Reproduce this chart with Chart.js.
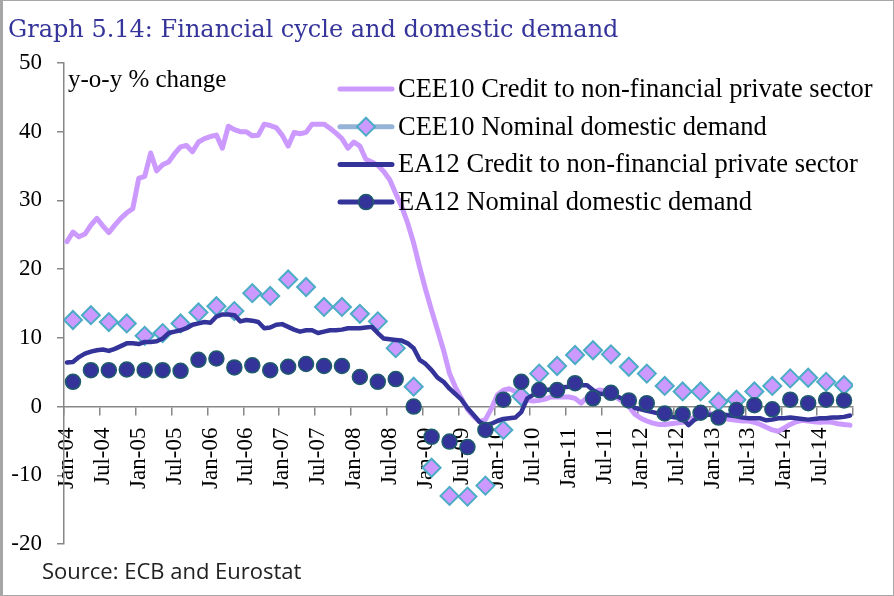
<!DOCTYPE html>
<html>
<head>
<meta charset="utf-8">
<style>
  html, body { margin: 0; padding: 0; background: #fff; }
  #wrap { position: relative; width: 894px; height: 596px; overflow: hidden; }
  #chart { position: absolute; left: 0; top: 0; }
  #frame { position: absolute; left: 0; top: 0; width: 894px; height: 596px; box-sizing: border-box;
           border: 1px solid #a6a6a6; border-left: 3px solid #a6a6a6; pointer-events: none; }
  #title { position: absolute; left: 8px; top: 15px; font: 24px/28px "DejaVu Serif", serif;
           color: #35349a; white-space: nowrap; }
  #source { position: absolute; left: 42px; top: 558px; font: 22px/25px "Open Sans", sans-serif;
            color: #222; white-space: nowrap; }
</style>
</head>
<body>
<div id="wrap">
  <canvas id="chart" width="894" height="596"></canvas>
  <div id="title">Graph 5.14: Financial cycle and domestic demand</div>
  <div id="source">Source: ECB and Eurostat</div>
  <div id="frame"></div>
</div>

<script src="https://cdn.jsdelivr.net/npm/chart.js"></script>
<script>
  // x tick labels, one every six months starting Jan-04
  const tickLabels = ['Jan-04', 'Jul-04', 'Jan-05', 'Jul-05', 'Jan-06', 'Jul-06', 'Jan-07', 'Jul-07',
    'Jan-08', 'Jul-08', 'Jan-09', 'Jul-09', 'Jan-10', 'Jul-10', 'Jan-11', 'Jul-11',
    'Jan-12', 'Jul-12', 'Jan-13', 'Jul-13', 'Jan-14', 'Jul-14'];

  const seriesNames = ['CEE10 Credit to non-financial private sector', 'CEE10 Nominal domestic demand',
    'EA12 Credit to non-financial private sector', 'EA12 Nominal domestic demand'];

  // monthly, Jan-04 .. Dec-14
  const ceeCredit = [
    24.0, 25.4, 24.7, 25.1, 26.4, 27.4, 26.3, 25.3, 26.4, 27.4, 28.2, 28.8,
    33.2, 33.5, 36.9, 34.3, 35.2, 35.6, 36.8, 37.8, 38.0, 37.1, 38.5, 39.0,
    39.3, 39.5, 37.6, 40.8, 40.3, 40.0, 40.0, 39.4, 39.5, 41.1, 40.9, 40.6,
    39.5, 37.9, 39.9, 39.7, 39.9, 41.1, 41.1, 41.1, 40.5, 39.8, 39.0, 37.6,
    38.5, 37.9, 36.0, 35.6, 35.1, 34.2, 33.0, 31.0, 29.1, 26.7, 23.8, 20.3,
    17.0, 14.0, 11.1, 8.2, 4.8, 2.8, 1.2, -0.4, -1.4, -2.2, -1.9, -0.3,
    1.7, 2.4, 2.6, 2.2, 1.7, 1.0, 0.8, 0.9, 1.1, 1.4, 1.4, 1.4,
    1.4, 1.2, 0.5, 1.3, 2.0, 2.4, 2.3, 2.0, 1.3, 0.7, 0.0, -1.1,
    -1.7, -2.1, -2.4, -2.6, -2.6, -2.5, -2.4, -2.3, -2.0, -1.5, -1.0, -0.9,
    -1.1, -1.4, -1.7, -1.9, -2.0, -2.1, -2.1, -2.3, -2.6, -3.0, -3.4, -3.6,
    -3.1, -2.6, -2.2, -2.0, -2.1, -2.2, -2.3, -2.2, -2.3, -2.5, -2.6, -2.7];

  const eaCredit = [
    6.4, 6.5, 7.2, 7.7, 8.0, 8.2, 8.3, 8.1, 8.4, 8.8, 9.2, 9.2,
    9.1, 9.4, 9.4, 9.5, 9.9, 10.7, 10.9, 11.1, 11.4, 11.9, 12.1, 12.3,
    12.2, 13.1, 13.4, 13.4, 13.3, 12.4, 12.6, 12.5, 12.3, 11.4, 11.5, 11.9,
    12.0, 11.6, 11.2, 10.9, 11.1, 11.1, 10.7, 10.9, 11.1, 11.1, 11.2, 11.4,
    11.4, 11.4, 11.5, 11.6, 10.7, 9.9, 9.8, 9.7, 9.6, 9.2, 8.5, 6.8,
    6.2, 5.3, 4.2, 3.6, 2.6, 1.8, 1.0, -0.2, -1.2, -2.2, -2.7, -2.5,
    -2.1, -1.8, -1.7, -1.6, -0.8, 1.2, 1.7, 2.2, 2.4, 2.5, 2.6, 2.8,
    2.9, 3.1, 3.1, 3.1, 2.4, 1.9, 1.8, 1.7, 1.5, 1.1, 0.7, -0.2,
    -0.4, -0.6, -0.8, -1.0, -1.3, -1.5, -1.6, -1.8, -2.7, -1.9, -1.5, -1.2,
    -1.2, -1.2, -1.2, -1.3, -1.4, -1.6, -1.7, -1.7, -1.7, -2.0, -1.9, -1.7,
    -1.7, -1.6, -1.7, -1.8, -1.9, -1.8, -1.7, -1.7, -1.6, -1.6, -1.5, -1.3];

  // quarterly, 2004Q1 .. 2014Q4
  const ceeDemand = [
    12.6, 13.3, 12.3, 12.1, 10.3, 10.7, 12.1, 13.7, 14.6, 13.9, 16.5, 16.1,
    18.5, 17.4, 14.5, 14.5, 13.5, 12.4, 8.5, 2.9, -8.9, -13.0, -13.1, -11.5,
    -3.4, 1.5, 4.8, 5.9, 7.5, 8.2, 7.6, 5.8, 4.8, 3.0, 2.2, 2.2,
    0.7, 1.0, 2.2, 3.0, 4.1, 4.2, 3.6, 3.1];

  const eaDemand = [
    3.6, 5.3, 5.3, 5.4, 5.3, 5.3, 5.2, 6.8, 7.0, 5.7, 6.0, 5.3,
    5.8, 6.2, 5.9, 5.9, 4.3, 3.6, 4.0, 0.0, -4.4, -5.1, -5.9, -3.4,
    1.0, 3.6, 2.4, 2.4, 3.4, 1.2, 2.0, 0.9, 0.5, -1.0, -1.1, -0.9,
    -1.6, -0.5, 0.2, -0.4, 1.0, 0.5, 1.0, 0.9];

  // x is measured in months since Jan-04; each observation sits mid-period
  const monthly = arr => arr.map((v, i) => ({ x: i + 0.5, y: v }));
  const quarterly = arr => arr.map((v, q) => ({ x: q * 3 + 1.5, y: v }));

  const serif = 'Liberation Serif';
  const axisGrey = '#878787';

  // legend and unit label drawn inside the plot area
  const insideLegend = {
    id: 'insideLegend',
    afterDraw(chart) {
      const ctx = chart.ctx;
      ctx.save();
      ctx.fillStyle = '#000';
      ctx.font = '25px "' + serif + '"';
      ctx.textBaseline = 'alphabetic';
      ctx.textAlign = 'left';
      ctx.fillText('y-o-y % change', 68, 87);

      ctx.font = '26.5px "' + serif + '"';
      ctx.textBaseline = 'middle';
      chart.data.datasets.forEach((ds, i) => {
        const y = 89 + i * 37.7;
        const x0 = 340, x1 = 392, xm = (x0 + x1) / 2;
        ctx.beginPath();
        ctx.lineCap = 'round';
        ctx.lineWidth = 5;
        ctx.strokeStyle = ds.legendLine;
        ctx.moveTo(x0, y);
        ctx.lineTo(x1, y);
        ctx.stroke();
        if (ds.pointStyle === 'rectRot') {
          const r = 9;
          ctx.beginPath();
          ctx.moveTo(xm - r, y); ctx.lineTo(xm, y - r); ctx.lineTo(xm + r, y); ctx.lineTo(xm, y + r);
          ctx.closePath();
          ctx.fillStyle = ds.backgroundColor; ctx.fill();
          ctx.lineWidth = 2; ctx.strokeStyle = ds.borderColor; ctx.stroke();
        } else if (ds.pointStyle === 'circle' && ds.pointRadius > 0) {
          ctx.beginPath();
          ctx.arc(xm, y, 7.5, 0, Math.PI * 2);
          ctx.fillStyle = ds.backgroundColor; ctx.fill();
          ctx.lineWidth = 1.5; ctx.strokeStyle = ds.borderColor; ctx.stroke();
        }
        ctx.fillStyle = '#000';
        ctx.fillText(ds.label, 398, y + 1);
      });
      ctx.restore();
    }
  };

  new Chart(document.getElementById('chart'), {
    type: 'line',
    data: {
      datasets: [
        {
          label: seriesNames[0],
          data: monthly(ceeCredit),
          borderColor: '#cc99ff',
          legendLine: '#cc99ff',
          borderWidth: 5,
          pointRadius: 0,
          pointStyle: 'line',
          order: 4
        },
        {
          label: seriesNames[1],
          data: quarterly(ceeDemand),
          showLine: false,
          pointStyle: 'rectRot',
          pointRadius: 9,
          pointBorderWidth: 2,
          backgroundColor: '#cc99ff',
          borderColor: '#4bacc6',
          legendLine: '#95b3d7',
          order: 3
        },
        {
          label: seriesNames[2],
          data: monthly(eaCredit),
          borderColor: '#333399',
          legendLine: '#333399',
          borderWidth: 4.5,
          pointRadius: 0,
          pointStyle: 'line',
          order: 2
        },
        {
          label: seriesNames[3],
          data: quarterly(eaDemand),
          showLine: false,
          pointStyle: 'circle',
          pointRadius: 7.5,
          pointBorderWidth: 1.5,
          backgroundColor: '#333399',
          borderColor: '#1f5c6b',
          legendLine: '#333399',
          order: 1
        }
      ]
    },
    options: {
      responsive: false,
      animation: false,
      events: [],
      layout: { padding: { top: 63, right: 41, bottom: 52, left: 0 } },
      elements: { line: { tension: 0, fill: false, borderJoinStyle: 'round', borderCapStyle: 'round' } },
      scales: {
        x: {
          type: 'linear',
          position: { y: 0 },
          min: 0,
          max: 132,
          grid: { drawOnChartArea: false, tickLength: 8, color: axisGrey, lineWidth: 1.5 },
          border: { color: axisGrey, width: 1.5 },
          ticks: {
            stepSize: 6,
            autoSkip: false,
            minRotation: 90,
            maxRotation: 90,
            padding: 13,
            labelOffset: 3,
            color: '#000',
            font: { family: serif, size: 23 },
            callback: (value) => tickLabels[value / 6] || ''
          }
        },
        y: {
          min: -20,
          max: 50,
          afterFit(scale) { scale.width = 64; },
          grid: { drawOnChartArea: false, tickLength: 7, color: axisGrey, lineWidth: 1.5 },
          border: { color: axisGrey, width: 1.5 },
          ticks: {
            stepSize: 10,
            padding: 15,
            color: '#000',
            font: { family: serif, size: 23 }
          }
        }
      },
      plugins: {
        legend: { display: false },
        tooltip: { enabled: false }
      }
    },
    plugins: [insideLegend]
  });
</script>
</body>
</html>
